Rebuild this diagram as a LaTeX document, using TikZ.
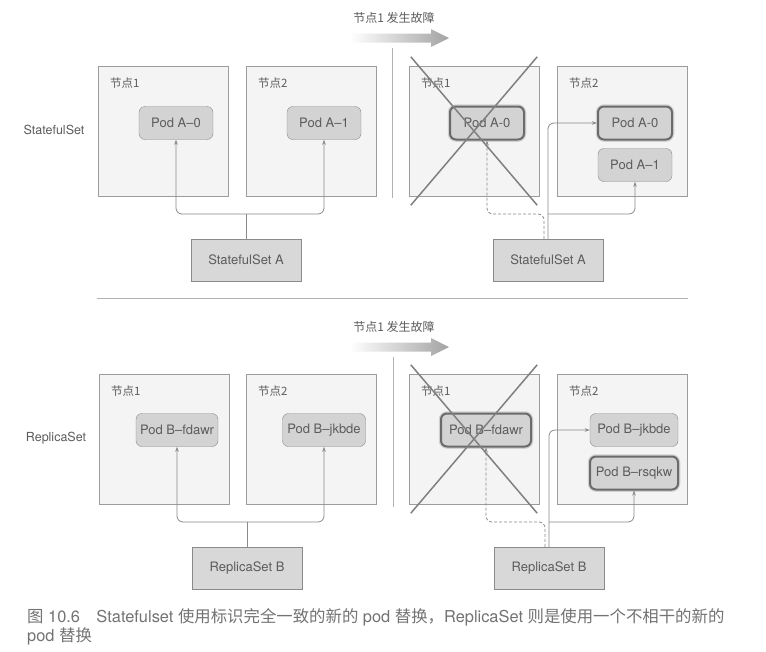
\documentclass[tikz,border=0pt]{standalone}
\usepackage{fontspec}
\setmainfont{TeX Gyre Heros}
\newfontfamily\cjk{Noto Sans CJK SC}
\usetikzlibrary{arrows.meta}
\definecolor{txt}{HTML}{5C5C5C}
\definecolor{edge}{HTML}{8A8A8A}
\definecolor{hostfill}{HTML}{F4F4F4}
\definecolor{podfill}{HTML}{D3D3D3}
\definecolor{setfill}{HTML}{D8D8D8}

\begin{document}
\begin{tikzpicture}[x=1pt,y=-1pt,
	host/.style={draw=edge!85, fill=hostfill, minimum width=130pt, minimum height=130pt, inner sep=0pt},
	hostname/.style={anchor=west, inner sep=0pt, text=txt, font=\cjk\fontsize{11.5}{13}\selectfont},
	pod/.style={draw=edge, fill=podfill, rounded corners=6pt, minimum width=74pt, minimum height=33pt, inner sep=0pt, text=txt, font=\fontsize{13}{15}\selectfont},
	podhl/.style={pod, draw=black!58, line width=2pt, preaction={draw=black!18, line width=4.5pt}},
	setbox/.style={draw=edge, fill=setfill, minimum width=110pt, minimum height=42pt, inner sep=0pt, text=txt, font=\fontsize{13}{15}\selectfont},
	side/.style={text=txt, font=\fontsize{12.5}{15}\selectfont},
	link/.style={draw=edge, line width=0.8pt, rounded corners=6pt, -{Stealth[length=5pt,width=3.5pt]}},
	dlink/.style={link, dash pattern=on 3pt off 2pt},
	crossline/.style={draw=black!50, line width=1.5pt},
	sepline/.style={draw=black!30, line width=0.8pt}]
	\fill[white] (0,0) rectangle (766,651);
	\useasboundingbox (0,0) rectangle (766,651);

	\draw (54,130) node(lsts) [side] {StatefulSet};
	\draw (56,438) node(lrs) [side] {ReplicaSet};

	\draw (394,18) node(fa) [text=txt, font=\cjk\fontsize{12}{14}\selectfont] {节点1 发生故障};
	\shade[left color=white, right color=black!36] (350,33.5) -- (431,33.5) -- (431,29) -- (449,38) -- (431,47) -- (431,42.5) -- (350,42.5) -- cycle;
	\draw (394,327) node(fb) [text=txt, font=\cjk\fontsize{12}{14}\selectfont] {节点1 发生故障};
	\shade[left color=white, right color=black!36] (350,342.5) -- (431,342.5) -- (431,338) -- (449,347) -- (431,356) -- (431,351.5) -- (350,351.5) -- cycle;

	\path[sepline] (392,48) -- (392,198);
	\path[sepline] (393,357) -- (393,507);
	\path[sepline] (97,298) -- (688,298);

	\draw (163,131) node(ha1) [host] {};
	\draw (311,131) node(ha2) [host] {};
	\draw (474,131) node(hb1) [host] {};
	\draw (622,131) node(hb2) [host] {};
	\draw (164,439) node(hc1) [host] {};
	\draw (311,439) node(hc2) [host] {};
	\draw (474,439) node(hd1) [host] {};
	\draw (622,439) node(hd2) [host] {};
	\foreach \h/\n in {ha1/1, ha2/2, hb1/1, hb2/2, hc1/1, hc2/2, hd1/1, hd2/2}
		\draw ([xshift=12pt,yshift=-17pt]\h.north west) node(\h t) [hostname] {节点\n};

	\draw (176,123) node(pa0) [pod] {Pod A–0};
	\draw (324,123) node(pa1) [pod] {Pod A–1};
	\draw (246,260) node(sa) [setbox] {StatefulSet A};
	\draw (246,214) coordinate(ja);
	\path[draw=edge, line width=0.8pt] (sa.north) -- (ja);
	\path[link] (ja) -| (pa0.south);
	\path[link] (ja) -| (pa1.south);

	\draw (487,123) node(pa0x) [podhl] {Pod A-0};
	\draw (635,123) node(pa0n) [podhl] {Pod A-0};
	\draw (635,165) node(pa1r) [pod] {Pod A–1};
	\draw (548,260) node(sar) [setbox] {StatefulSet A};
	\draw (548,214) coordinate(jar);
	\draw (544,214) coordinate(kar);
	\path[dlink] ([xshift=-4pt]sar.north) -- (kar) -| (pa0x.south);
	\path[link] (sar.north) |- (pa0n.west);
	\path[link] (jar) -| (pa1r.south);
	\path[crossline] ([xshift=2pt,yshift=9pt]hb1.north west) -- ([xshift=-2pt,yshift=-9pt]hb1.south east);
	\path[crossline] ([xshift=-2pt,yshift=9pt]hb1.north east) -- ([xshift=2pt,yshift=-9pt]hb1.south west);

	\draw (177,430) node(pb1) [pod, minimum width=82pt] {Pod B–fdawr};
	\draw (324,430) node(pb2) [pod, minimum width=83pt] {Pod B–jkbde};
	\draw (247,568) node(sb) [setbox] {ReplicaSet B};
	\draw (247,522) coordinate(jb);
	\path[draw=edge, line width=0.8pt] (sb.north) -- (jb);
	\path[link] (jb) -| (pb1.south);
	\path[link] (jb) -| (pb2.south);

	\draw (486,430) node(pb1x) [podhl, minimum width=90pt] {Pod B–fdawr};
	\draw (634,430) node(pb2r) [pod, minimum width=88pt] {Pod B–jkbde};
	\draw (634,473) node(pb3) [podhl, minimum width=88pt] {Pod B–rsqkw};
	\draw (549,568) node(sbr) [setbox] {ReplicaSet B};
	\draw (549,522) coordinate(jbr);
	\draw (545,522) coordinate(kbr);
	\path[dlink] ([xshift=-4pt]sbr.north) -- (kbr) -| (pb1x.south);
	\path[link] (sbr.north) |- (pb2r.west);
	\path[link] (jbr) -| (pb3.south);
	\path[crossline] ([xshift=2pt,yshift=9pt]hd1.north west) -- ([xshift=-2pt,yshift=-9pt]hd1.south east);
	\path[crossline] ([xshift=-2pt,yshift=9pt]hd1.north east) -- ([xshift=2pt,yshift=-9pt]hd1.south west);

	\draw (27,627) node(cap) [anchor=west, align=left, inner sep=0pt, text=black!55, font=\fontsize{16.4}{19}\selectfont] {{\cjk 图} 10.6\quad Statefulset {\cjk 使用标识完全一致的新的} pod {\cjk 替换，}ReplicaSet {\cjk 则是使用一个不相干的新的}\\pod {\cjk 替换}};
\end{tikzpicture}
\end{document}
